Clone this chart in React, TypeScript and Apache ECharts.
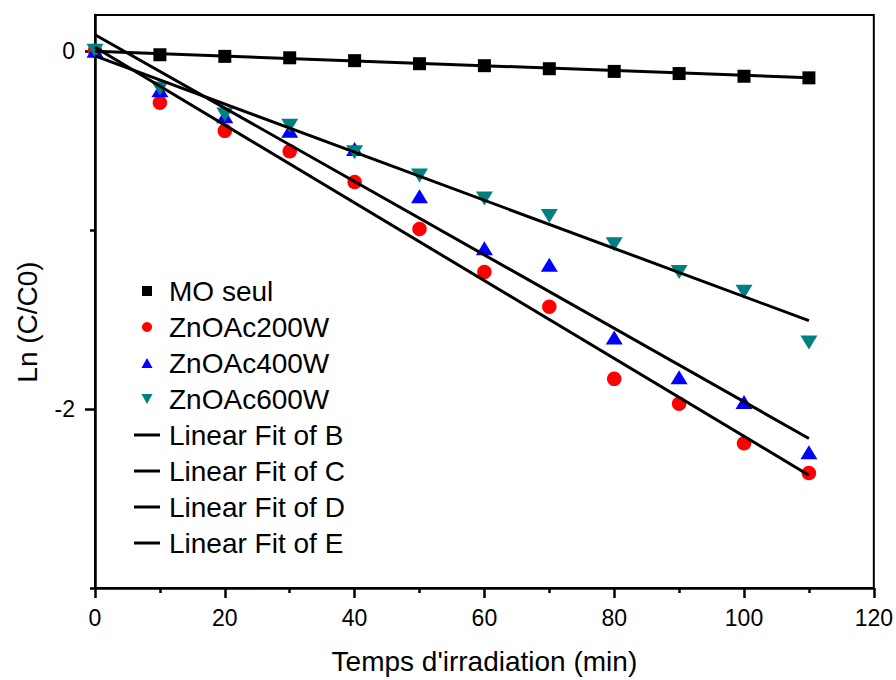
import React, { useEffect, useRef } from "react";
import * as echarts from "echarts";

const times = [0, 10, 20, 30, 40, 50, 60, 70, 80, 90, 100, 110];
const moSeul = [null, -0.022, -0.031, -0.039, -0.055, -0.072, -0.083, -0.1, -0.115, -0.127, -0.142, -0.151];
const znoAc200W = [0, -0.29, -0.447, -0.561, -0.733, -0.995, -1.235, -1.429, -1.832, -1.971, -2.192, -2.358];
const znoAc400W = [0, -0.22, -0.365, -0.447, -0.548, -0.812, -1.102, -1.195, -1.601, -1.823, -1.961, -2.242];
const znoAc600W = [0, -0.21, -0.355, -0.419, -0.567, -0.696, -0.825, -0.922, -1.08, -1.235, -1.346, -1.629];

const fitX = [0, 110];
const fitB = [-0.003, -0.15];
const fitC = [0.02, -2.37];
const fitD = [0.09, -2.165];
const fitE = [-0.028, -1.507];

const yMajorTicks = [0, -2];
const yMinorTicks = [-1, -3];

const FONT = '"Liberation Sans", Arial, sans-serif';

const pairs = (xs: number[], ys: (number | null)[]) =>
  xs.map((x, i) => [x, ys[i] === null ? "-" : ys[i]]);

export default function App() {
  const ref = useRef<HTMLDivElement>(null);
  useEffect(() => {
    document.body.style.margin = "0";
    if (!ref.current) return;
    const chart = echarts.init(ref.current, null, { renderer: "svg" });
    const axisLine = { show: true, onZero: false, lineStyle: { color: "#000", width: 2.5 } };
    const scatter = (name: string, ys: (number | null)[], symbol: string, size: any, color: string, rotate = 0) => ({
      name,
      type: "scatter",
      data: pairs(times, ys),
      symbol,
      symbolSize: size,
      symbolRotate: rotate,
      itemStyle: { color, opacity: 1 },
      clip: false,
      z: 2,
    });
    const fit = (name: string, ys: number[]) => ({
      name,
      type: "line",
      data: pairs(fitX, ys),
      symbol: "none",
      color: "#000",
      lineStyle: { color: "#000", width: 3 },
      z: 3,
    });
    chart.setOption({
      animation: false,
      backgroundColor: "#fff",
      grid: {
        left: 95,
        right: 21,
        top: 15,
        bottom: 87,
        show: true,
        borderColor: "#000",
        borderWidth: 2,
        containLabel: false,
      },
      xAxis: {
        type: "value",
        min: 0,
        max: 120,
        interval: 20,
        name: "Temps d'irradiation (min)",
        nameLocation: "middle",
        nameGap: 59,
        nameTextStyle: { fontFamily: FONT, fontSize: 28, color: "#000" },
        axisLine,
        axisTick: { show: true, inside: false, length: 10, lineStyle: { color: "#000", width: 2.5 } },
        minorTick: { show: true, splitNumber: 2, length: 5, lineStyle: { color: "#000", width: 2.5 } },
        axisLabel: { fontFamily: FONT, fontSize: 23, color: "#000", margin: 18 },
        splitLine: { show: false },
      },
      yAxis: [
        {
          type: "value",
          min: -3,
          max: 0.2,
          position: "left",
          axisLine,
          axisTick: {
            show: true,
            inside: false,
            length: 10,
            customValues: yMajorTicks,
            lineStyle: { color: "#000", width: 2.5 },
          },
          axisLabel: {
            fontFamily: FONT,
            fontSize: 23,
            color: "#000",
            margin: 20,
            customValues: yMajorTicks,
            formatter: (v: number) => String(v),
          },
          splitLine: { show: false },
        },
        {
          type: "value",
          min: -3,
          max: 0.2,
          position: "left",
          axisLine: { show: false, onZero: false },
          axisTick: {
            show: true,
            inside: false,
            length: 5,
            customValues: yMinorTicks,
            lineStyle: { color: "#000", width: 2.5 },
          },
          axisLabel: { show: false },
          splitLine: { show: false },
        },
      ],
      legend: {
        orient: "vertical",
        left: 129,
        top: 268,
        itemWidth: 26,
        itemHeight: 10,
        itemGap: 0,
        symbolKeepAspect: true,
        itemStyle: { borderWidth: 0 },
        textStyle: { fontFamily: FONT, fontSize: 28, color: "#000", lineHeight: 36, padding: [0, 0, 0, 4] },
        data: [
          { name: "MO seul", icon: "path://M0,0L10,0L10,10L0,10Z" },
          { name: "ZnOAc200W", icon: "circle" },
          { name: "ZnOAc400W", icon: "path://M5,0L10,9L0,9Z" },
          { name: "ZnOAc600W", icon: "path://M0,0L10,0L5,9Z" },
          { name: "Linear Fit of B", icon: "path://M0,0L26,0L26,3L0,3Z" },
          { name: "Linear Fit of C", icon: "path://M0,0L26,0L26,3L0,3Z" },
          { name: "Linear Fit of D", icon: "path://M0,0L26,0L26,3L0,3Z" },
          { name: "Linear Fit of E", icon: "path://M0,0L26,0L26,3L0,3Z" },
        ],
      },
      graphic: [
        {
          type: "text",
          x: 27,
          y: 322,
          rotation: Math.PI / 2,
          style: {
            text: "Ln (C/C0)",
            fontFamily: FONT,
            fontSize: 28,
            fill: "#000",
            textAlign: "center",
            textVerticalAlign: "middle",
          },
        },
      ],
      series: [
        scatter("MO seul", moSeul, "rect", 13, "#000"),
        scatter("ZnOAc200W", znoAc200W, "circle", 14.5, "#ff0000"),
        scatter("ZnOAc400W", znoAc400W, "triangle", [17, 14], "#0000ff"),
        scatter("ZnOAc600W", znoAc600W, "triangle", [17, 14], "#008080", 180),
        fit("Linear Fit of B", fitB),
        fit("Linear Fit of C", fitC),
        fit("Linear Fit of D", fitD),
        fit("Linear Fit of E", fitE),
      ],
    });
    return () => chart.dispose();
  }, []);
  return <div ref={ref} style={{ width: 896, height: 680 }} />;
}
